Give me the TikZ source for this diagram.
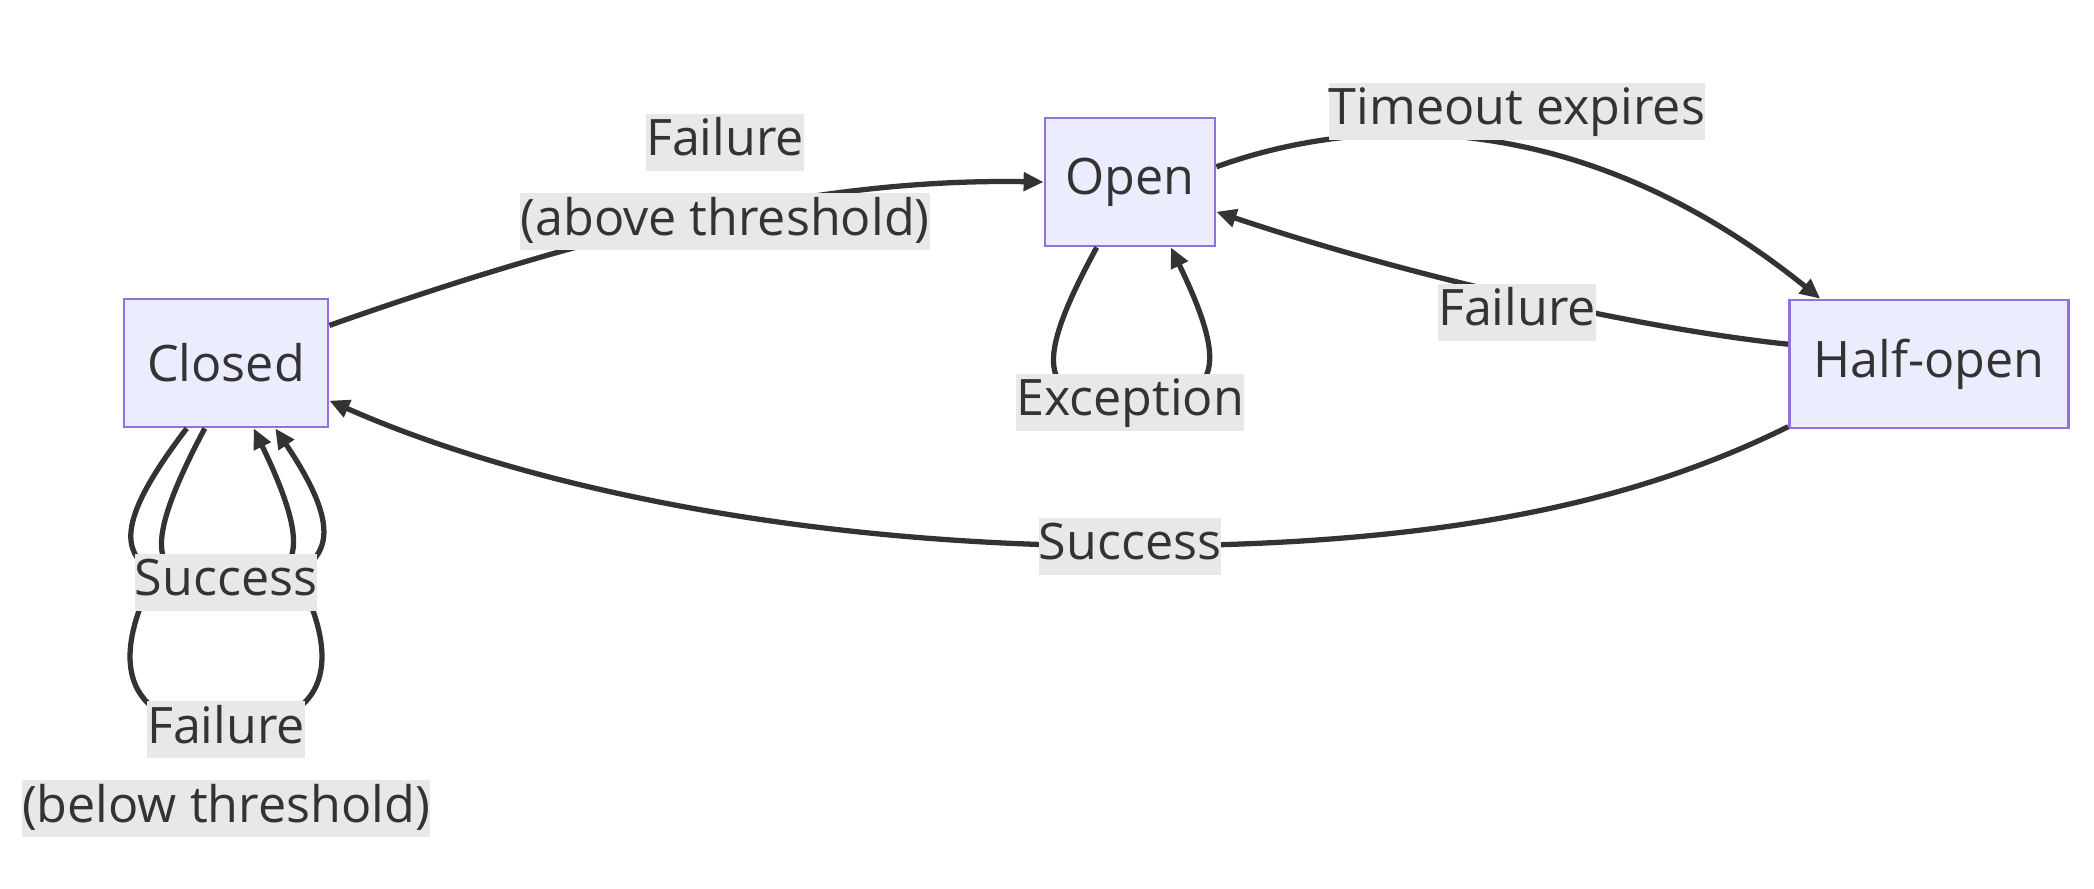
\documentclass[tikz,border=0pt]{standalone}
\usepackage{fontspec}
\setmainfont{Open Sans}
\usetikzlibrary{arrows.meta}
\definecolor{statefill}{HTML}{ECECFF}
\definecolor{stateline}{HTML}{9370DB}
\definecolor{inkgray}{HTML}{333333}
\definecolor{lblbg}{HTML}{E8E8E8}
% grey box behind one line of an edge label
\newcommand{\lb}[1]{{\setlength{\fboxsep}{0pt}\colorbox{lblbg}{\rule[-0.15cm]{0pt}{0.57cm}#1}}}
\tikzset{
    statebase/.style={font=\fontsize{14.3}{22.5}\selectfont, text=inkgray, >={Triangle[length=0.2cm, width=0.18cm]}},
    state/.style={rectangle, draw=stateline, line width=0.8pt, fill=statefill, minimum height=1.28cm, align=center, inner sep=0pt},
    edge/.style={draw=inkgray, ->, line width=1.5pt},
    lbl/.style={inner sep=0pt, align=center, text=inkgray},
}

\begin{document}
\begin{tikzpicture}[statebase]
\useasboundingbox (0,0) rectangle (20.94,-8.88);

% ===================== STATES =====================
\node[state, minimum width=2.04cm] (closed) at (2.26,-3.63) {Closed};
\node[state, minimum width=1.70cm] (open) at (11.30,-1.82) {Open};
\node[state, minimum width=2.79cm] (halfopen) at (19.29,-3.64) {Half-open};

% ===================== TRANSITIONS =====================
\draw[edge] (closed.20) .. controls (6.0,-2.3) and (8.2,-1.78) .. (open.west)
    node[lbl] at (7.25,-1.82) {\lb{Failure}\\\lb{(above threshold)}};
\draw[edge] (open.10) .. controls (13.6,-1.15) and (15.8,-1.05) .. (halfopen.149)
    node[lbl] at (15.17,-1.11) {\lb{Timeout expires}};
\draw[edge] (halfopen.172) .. controls (16.5,-3.3) and (14.2,-2.8) .. (open.-19)
    node[lbl] at (15.17,-3.12) {\lb{Failure}};
\draw[edge] (halfopen.204) .. controls (16.4,-5.0) and (14.5,-5.46) .. (11.30,-5.46)
    node[lbl] {\lb{Success}}
    .. controls (8.0,-5.46) and (5.2,-4.85) .. (closed.-20);

% ===================== SELF LOOPS =====================
\draw[edge] (open.-117) .. controls (10.3,-3.7) and (10.4,-4.02) .. (11.30,-4.02)
    node[lbl] {\lb{Exception}}
    .. controls (12.2,-4.02) and (12.3,-3.7) .. (open.-58);

% outer loop first, the Success label covers it
\draw[edge] (closed.-121) .. controls (1.05,-5.35) and (1.3,-5.55) .. (1.55,-5.75)
    .. controls (1.2,-6.4) and (1.05,-7.25) .. (2.26,-7.27)
    node[lbl, anchor=north, yshift=0.285cm] {\lb{Failure}\\\lb{(below threshold)}}
    .. controls (3.47,-7.25) and (3.32,-6.4) .. (2.97,-5.75)
    .. controls (3.22,-5.55) and (3.47,-5.35) .. (closed.-53);
\draw[edge] (closed.-108) .. controls (1.35,-5.6) and (1.55,-5.82) .. (2.26,-5.82)
    node[lbl] {\lb{Success}}
    .. controls (2.97,-5.82) and (3.17,-5.6) .. (closed.-67);

\end{tikzpicture}
\end{document}
